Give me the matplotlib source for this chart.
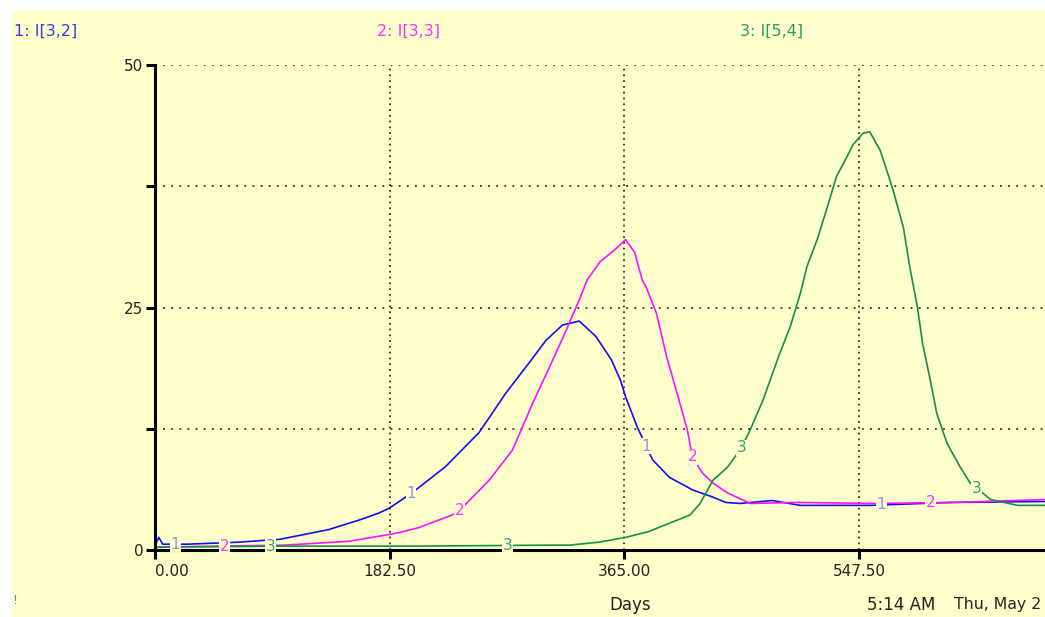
import matplotlib
matplotlib.use("Agg")
import matplotlib.pyplot as plt
import numpy as np
from matplotlib.patches import Rectangle

# ---------------- data ----------------
days1 = [0, 3, 6, 25, 64, 97, 135, 159, 174, 182, 200, 226, 252, 273, 291, 304, 317,
         330, 343, 355, 362, 366, 375, 387, 400, 418, 433, 444, 455, 480, 502, 556, 618, 692]
i1 = [0.5, 1.3, 0.6, 0.6, 0.8, 1.1, 2.1, 3.1, 3.8, 4.3, 5.9, 8.6, 12.1, 16.2, 19.3, 21.6, 23.2,
      23.6, 22.0, 19.6, 17.5, 15.8, 12.7, 9.3, 7.5, 6.2, 5.5, 4.9, 4.8, 5.1, 4.6, 4.6, 4.9, 5.0]

days2 = [0, 54, 100, 126, 151, 182, 190, 205, 231, 237, 260, 278, 294, 307, 320, 330, 336,
         346, 358, 366, 373, 379, 382, 390, 398, 406, 414, 418, 426, 434, 445, 463, 500,
         560, 620, 692]
i2 = [0.3, 0.4, 0.5, 0.7, 0.9, 1.6, 1.8, 2.3, 3.6, 4.1, 7.2, 10.3, 15.2, 18.9, 22.7, 25.8, 27.8,
      29.7, 31.0, 32.0, 30.7, 27.8, 27.1, 24.4, 19.9, 16.2, 12.4, 9.6, 7.9, 6.9, 5.9, 4.8, 4.9,
      4.8, 4.9, 5.2]

days3 = [0, 100, 200, 307, 322, 345, 366, 384, 397, 416, 424, 434, 445, 455, 463, 473, 486,
         494, 502, 507, 515, 523, 530, 538, 543, 551, 556, 564, 569, 574, 582, 587, 593, 597,
         603, 608, 616, 626, 634, 650, 671, 692]
i3 = [0.3, 0.4, 0.4, 0.5, 0.5, 0.8, 1.3, 1.9, 2.6, 3.6, 4.8, 7.2, 8.5, 10.3, 12.4, 15.5, 20.3,
      23.0, 26.5, 29.2, 32.0, 35.4, 38.5, 40.5, 41.8, 43.0, 43.1, 41.2, 39.2, 37.1, 33.3, 29.2,
      25.0, 21.3, 17.5, 14.1, 11.0, 8.6, 6.9, 5.2, 4.6, 4.6]

series_names = ["1: I[3,2]", "2: I[3,3]", "3: I[5,4]"]
label_days = [[16, 199, 382, 565], [54, 237, 418, 603], [90, 274, 456, 639]]

x_ticks = [0, 182.5, 365, 547.5]
x_tick_labels = ["0.00", "182.50", "365.00", "547.50"]
y_ticks = [0, 12.5, 25, 37.5, 50]
y_tick_labels = ["0", "", "25", "", "50"]

# ---------------- style ----------------
W, H = 1045, 617
BG = "#FFFFCC"
line_colors = ["#1010F0", "#FF10FF", "#129048"]
label_colors = ["#9090EE", "#FF30FF", "#30A080"]
header_colors = ["#3A3AE8", "#FF30FF", "#2A9A6A"]

fig = plt.figure(figsize=(W / 100, H / 100), dpi=100)
fig.patch.set_facecolor("white")
fig.add_artist(Rectangle((12 / W, 0), 1 - 12 / W, (H - 10) / H,
                         transform=fig.transFigure, facecolor=BG,
                         edgecolor="none", zorder=-10))

ax = fig.add_axes([155 / W, 67 / H, 890 / W, 485 / H])
ax.set_facecolor("none")
ax.set_xlim(0, 692.2)
ax.set_ylim(0, 50)

for sp in ["top", "right"]:
    ax.spines[sp].set_visible(False)
for sp in ["left", "bottom"]:
    ax.spines[sp].set_linewidth(2.2)
    ax.spines[sp].set_color("black")
    ax.spines[sp].set_zorder(5)

ax.set_xticks(x_ticks)
ax.set_xticklabels(x_tick_labels)
ax.set_yticks(y_ticks)
ax.set_yticklabels(y_tick_labels)
ax.tick_params(axis="both", direction="out", length=6.5, width=2.2, color="black",
               labelsize=11, labelcolor="#222222")
ax.tick_params(axis="x", pad=3.5)
ax.tick_params(axis="y", pad=2)
ax.xaxis.get_major_ticks()[0].label1.set_horizontalalignment("left")

# dotted grid
for yv in y_ticks[1:]:
    ax.axhline(yv, color="#333333", lw=1.3, ls=(0, (1, 3.5)), zorder=1)
for xv in x_ticks[1:]:
    ax.axvline(xv, color="#333333", lw=1.3, ls=(0, (1, 2.2)), zorder=1)

series = [(days1, i1), (days2, i2), (days3, i3)]
for k, (d, v) in enumerate(series):
    ax.plot(d, v, color=line_colors[k], lw=1.2, zorder=2 + k, clip_on=False)

for k, (d, v) in enumerate(series):
    for ld in label_days[k]:
        yv = float(np.interp(ld, d, v))
        ax.text(ld, yv, str(k + 1), color=label_colors[k], fontsize=11,
                ha="center", va="center", zorder=6,
                bbox=dict(facecolor=BG, edgecolor="none", pad=0.3))

# header legend
header_x = [14, 377, 740]
for k, name in enumerate(series_names):
    fig.text(header_x[k] / W, 1 - 31 / H, name, color=header_colors[k],
             fontsize=11.5, ha="left", va="center")

# bottom texts
fig.text(630 / W, 1 - 605 / H, "Days", fontsize=12, color="#222222",
         ha="center", va="center")
fig.text(867 / W, 1 - 605 / H, "5:14 AM", fontsize=12, color="#222222",
         ha="left", va="center")
fig.text(954 / W, 1 - 605 / H, "Thu, May 2", fontsize=11.3, color="#222222",
         ha="left", va="center")
fig.text(12 / W, 1 - 600 / H, "!", fontsize=9, color="#3399CC",
         ha="left", va="center")

fig.savefig("out.png", dpi=100)
